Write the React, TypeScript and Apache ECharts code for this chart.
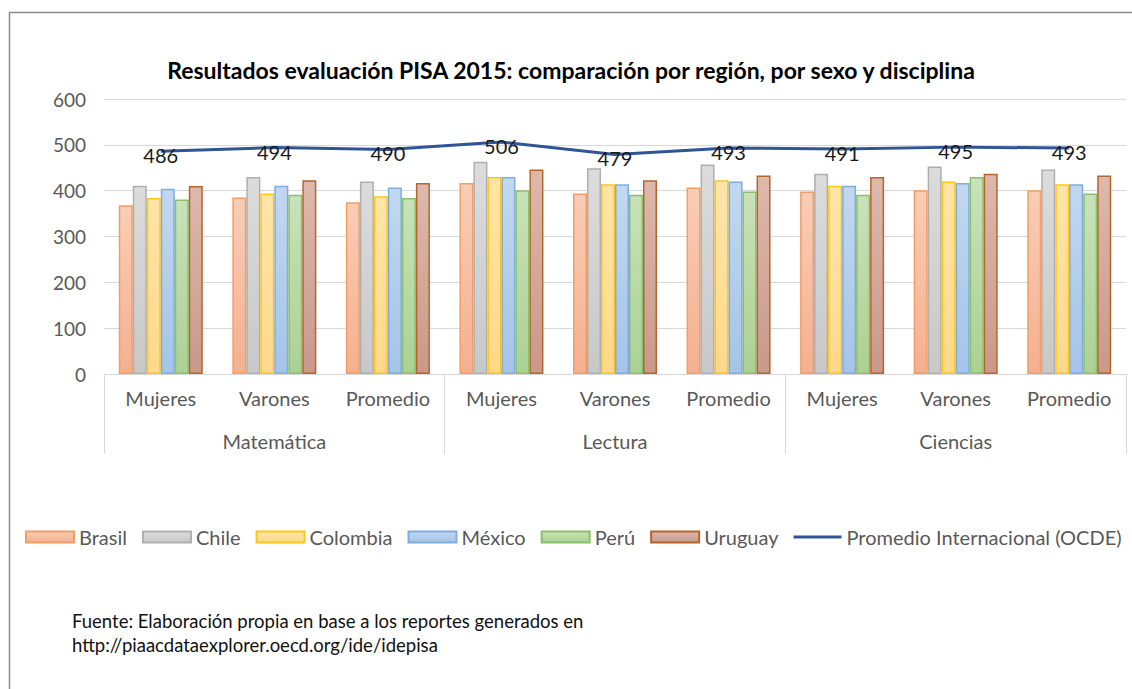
import React, { useEffect, useRef } from "react";
import * as echarts from "echarts";

const subCategories = ["Mujeres", "Varones", "Promedio", "Mujeres", "Varones", "Promedio", "Mujeres", "Varones", "Promedio"];
const groups = ["Matemática", "Lectura", "Ciencias"];

const brasil = [368, 385, 375, 417, 394, 407, 398, 401, 401];
const chile = [411, 430, 420, 463, 449, 457, 437, 453, 446];
const colombia = [384, 394, 388, 430, 414, 423, 411, 420, 414];
const mexico = [404, 411, 407, 430, 414, 420, 411, 417, 414];
const peru = [381, 391, 384, 401, 391, 398, 391, 430, 394];
const uruguay = [410, 423, 417, 446, 423, 433, 430, 437, 433];
const ocde = [486, 494, 490, 506, 479, 493, 491, 495, 493];

const yTicks = { min: 0, max: 600, interval: 100 };

const FONT = "Lato";
const GRAY = "#595959";

const barStyles = [
  { name: "Brasil", data: brasil, top: "#F9CDB6", bottom: "#F5B08F", border: "#F19E66" },
  { name: "Chile", data: chile, top: "#DCDCDC", bottom: "#C8C8C8", border: "#AFAFAF" },
  { name: "Colombia", data: colombia, top: "#FFE5A8", bottom: "#FED88A", border: "#FFC61A" },
  { name: "México", data: mexico, top: "#C2D8EF", bottom: "#A5C4E8", border: "#7DAEDF" },
  { name: "Perú", data: peru, top: "#C9E2BA", bottom: "#ABD193", border: "#8BC06B" },
  { name: "Uruguay", data: uruguay, top: "#DDB9AC", bottom: "#C9998A", border: "#B5652E" },
];

export default function App() {
  const ref = useRef<HTMLDivElement>(null);
  useEffect(() => {
    if (!ref.current) return;
    const chart = echarts.init(ref.current, null, { renderer: "svg" });
    const barSeries = barStyles.map((b) => ({
      name: b.name,
      type: "bar",
      xAxisIndex: 0,
      data: b.data,
      barWidth: 14,
      barGap: "0%",
      itemStyle: {
        color: new echarts.graphic.LinearGradient(0, 0, 0, 1, [
          { offset: 0, color: b.top },
          { offset: 1, color: b.bottom },
        ]),
        borderColor: b.border,
        borderWidth: 1.5,
      },
    }));
    chart.setOption({
      animation: false,
      backgroundColor: "#ffffff",
      title: {
        text: "Resultados evaluación PISA 2015: comparación por región, por sexo y disciplina",
        left: 566,
        textAlign: "center",
        top: 53,
        textStyle: { fontFamily: FONT, fontWeight: "bold", fontSize: 23, color: "#000" },
      },
      graphic: [
        {
          type: "polyline",
          shape: { points: [[9.5, 700], [9.5, 12.5], [1140, 12.5]] },
          style: { stroke: "#8c8c8c", lineWidth: 1.5, fill: null },
          silent: true,
        },
        {
          type: "text",
          left: 72,
          top: 609,
          style: {
            text: "Fuente: Elaboración propia en base a los reportes generados en\nhttp://piaacdataexplorer.oecd.org/ide/idepisa",
            font: `18.5px ${FONT}`,
            fill: "#111",
            lineHeight: 24,
          },
        },
      ],
      legend: {
        left: 25,
        right: 0,
        top: 527,
        padding: 0,
        itemWidth: 48,
        itemHeight: 11,
        itemGap: 15,
        textStyle: { fontFamily: FONT, fontSize: 20, color: GRAY },
        data: [
          ...barStyles.map((b) => ({ name: b.name, icon: "rect" })),
          { name: "Promedio Internacional (OCDE)", icon: "path://M0,0 L48,0 L48,3 L0,3 Z" },
        ],
      },
      grid: { left: 104, right: 6, top: 99, bottom: 315 },
      xAxis: [
        {
          type: "category",
          data: subCategories,
          position: "bottom",
          axisLine: { show: true, lineStyle: { color: "#d9d9d9", width: 1 } },
          axisTick: { show: false },
          axisLabel: { interval: 0, margin: 14, fontFamily: FONT, fontSize: 20, color: GRAY },
        },
        {
          type: "category",
          data: groups,
          position: "bottom",
          axisLine: { show: false },
          axisTick: { show: true, length: 80, interval: 0, lineStyle: { color: "#d9d9d9", width: 1 } },
          axisLabel: { interval: 0, margin: 57, fontFamily: FONT, fontSize: 20, color: GRAY },
        },
      ],
      yAxis: {
        type: "value",
        min: yTicks.min,
        max: yTicks.max,
        interval: yTicks.interval,
        axisLine: { show: false },
        axisTick: { show: false },
        axisLabel: { margin: 18, fontFamily: FONT, fontSize: 19, color: GRAY },
        splitLine: { lineStyle: { color: "#d9d9d9", width: 1 } },
      },
      series: [
        ...barSeries,
        {
          name: "Promedio Internacional (OCDE)",
          type: "line",
          xAxisIndex: 0,
          data: ocde,
          symbol: "circle",
          symbolSize: 0,
          z: 5,
          lineStyle: { color: "#2F5597", width: 3 },
          itemStyle: { color: "#2F5597" },
          label: {
            show: true,
            position: "inside",
            offset: [0, 4],
            fontFamily: FONT,
            fontSize: 20,
            color: "#1a1a1a",
          },
        },
      ],
    });
    return () => chart.dispose();
  }, []);
  return (
    <div
      ref={ref}
      style={{ position: "absolute", left: 0, top: 0, width: 1132, height: 689 }}
    />
  );
}
